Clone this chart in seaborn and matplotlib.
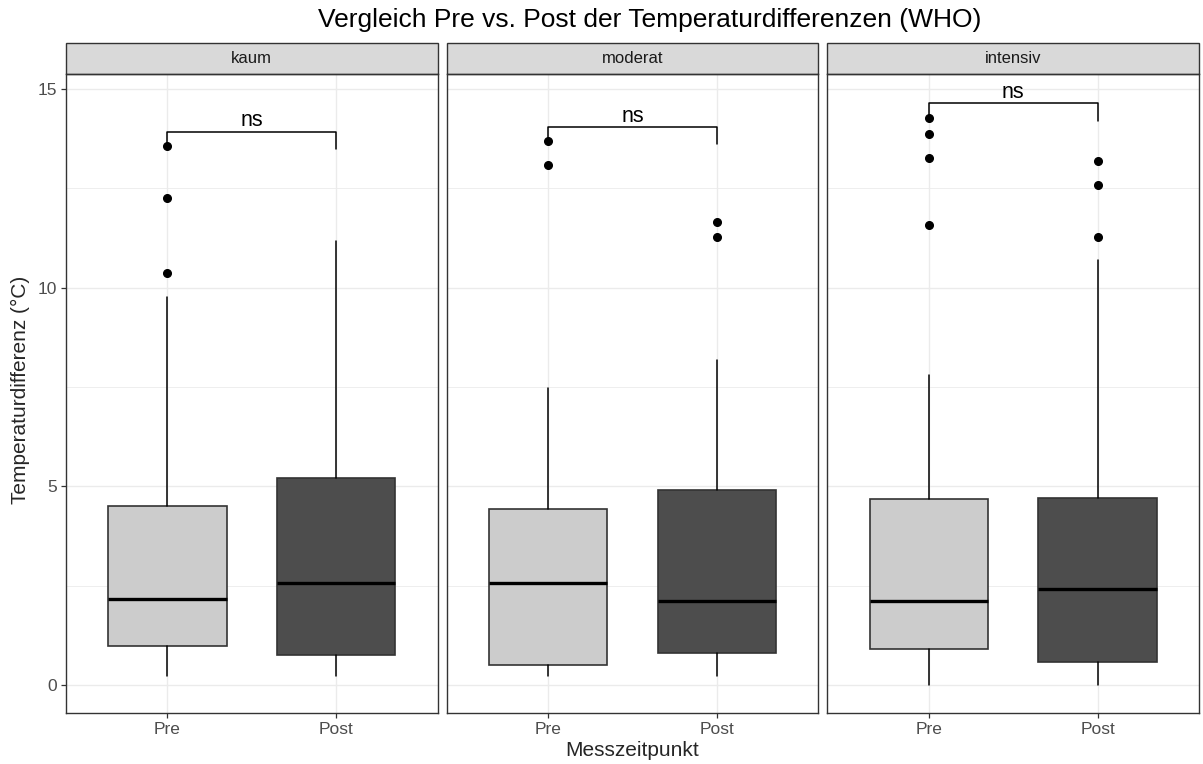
import numpy as np
import pandas as pd
import matplotlib
matplotlib.use("Agg")
import matplotlib.pyplot as plt
import seaborn as sns
from matplotlib.patches import Rectangle

# Intensitätsgruppen und Messzeitpunkte
gruppen = ["kaum", "moderat", "intensiv"]
zeitpunkte = ["Pre", "Post"]

# Boxplot-Kennwerte (°C), Reihenfolge: kaum Pre/Post, moderat Pre/Post, intensiv Pre/Post
whisker_unten = [0.23, 0.23, 0.23, 0.23, 0.00, 0.00]
q1 = [0.98, 0.77, 0.52, 0.80, 0.91, 0.59]
median = [2.16, 2.58, 2.58, 2.13, 2.12, 2.42]
q3 = [4.51, 5.22, 4.44, 4.90, 4.69, 4.71]
whisker_oben = [9.76, 11.18, 7.47, 8.18, 7.81, 10.69]
ausreisser = [
    [10.37, 12.26, 13.57],
    [],
    [13.08, 13.69],
    [11.28, 11.66],
    [11.57, 13.27, 13.86, 14.28],
    [11.29, 12.59, 13.19],
]
signifikanz = ["ns", "ns", "ns"]

fuellfarben = {"Pre": "#CCCCCC", "Post": "#4D4D4D"}

df = pd.DataFrame({
    "Gruppe": np.repeat(gruppen, len(zeitpunkte)),
    "Messzeitpunkt": zeitpunkte * len(gruppen),
    "whislo": whisker_unten,
    "q1": q1,
    "med": median,
    "q3": q3,
    "whishi": whisker_oben,
    "fliers": ausreisser,
})

sns.set_theme(style="white")
plt.rcParams["font.family"] = ["Liberation Sans", "DejaVu Sans"]

W, H = 1203, 764
g = sns.FacetGrid(df, col="Gruppe", col_order=gruppen, sharey=True, height=5, aspect=0.8)
fig = g.figure


def boxen_zeichnen(data, **kwargs):
    ax = plt.gca()
    stats, farben = [], []
    for _, r in data.iterrows():
        stats.append({"whislo": r.whislo, "q1": r.q1, "med": r.med, "q3": r.q3,
                      "whishi": r.whishi, "fliers": np.array(r.fliers)})
        farben.append(fuellfarben[r.Messzeitpunkt])
    pos = [zeitpunkte.index(m) for m in data["Messzeitpunkt"]]
    teile = ax.bxp(stats, positions=pos, widths=0.7, patch_artist=True, showcaps=False,
                   boxprops=dict(edgecolor="#333333", linewidth=1.2),
                   medianprops=dict(color="black", linewidth=2.4, solid_capstyle="butt"),
                   whiskerprops=dict(color="black", linewidth=1.1),
                   flierprops=dict(marker="o", markerfacecolor="black", markeredgecolor="black",
                                   markersize=5.5),
                   manage_ticks=False, zorder=3)
    for box, f in zip(teile["boxes"], farben):
        box.set_facecolor(f)

    # Vergleichsklammer mit Signifikanzangabe
    ymax = max(max([r.whishi] + list(r.fliers)) for _, r in data.iterrows())
    yb = ymax + 0.36
    bein = 0.44
    ax.plot([0, 0, 1, 1], [yb - bein, yb, yb, yb - bein], color="black", lw=1.1, zorder=4)
    label = signifikanz[gruppen.index(data["Gruppe"].iloc[0])]
    ax.text(0.5, yb + 0.13, label, ha="center", va="baseline", fontsize=15.5, color="black")


g.map_dataframe(boxen_zeichnen)
g.set_titles("")
g.set_axis_labels("", "")

strip_h = 31 / (713 - 74)
for i, (ax, name) in enumerate(zip(g.axes.flat, gruppen)):
    ax.set_xlim(-0.6, 1.6)
    ax.set_ylim(-0.70, 15.38)
    ax.set_xticks(range(len(zeitpunkte)))
    ax.set_xticklabels(zeitpunkte)
    ax.set_yticks([0, 5, 10, 15])
    ax.set_yticks([2.5, 7.5, 12.5], minor=True)
    ax.set_xticks([], minor=True)
    ax.grid(which="major", color="#EBEBEB", linewidth=1.0)
    ax.grid(which="minor", axis="y", color="#EBEBEB", linewidth=0.6)
    ax.set_axisbelow(True)
    for s in ax.spines.values():
        s.set_visible(True)
        s.set_color("#333333")
        s.set_linewidth(1.0)
    ax.tick_params(axis="both", which="major", length=3.5, width=0.9, color="#333333",
                   labelcolor="#4D4D4D", labelsize=12.5, pad=3, bottom=True, left=True)
    ax.tick_params(axis="both", which="minor", length=0)
    if i > 0:
        ax.tick_params(axis="y", which="major", length=0, labelleft=False)
    ax.set_title("")
    ax.add_patch(Rectangle((0, 1), 1, strip_h, transform=ax.transAxes, clip_on=False,
                           facecolor="#D9D9D9", edgecolor="#333333", linewidth=1.0))
    ax.text(0.5, 1 + strip_h / 2, name, transform=ax.transAxes, ha="center", va="center",
            fontsize=12, color="#1A1A1A")

fig.text(649.5 / W, 1 - 20 / H, "Vergleich Pre vs. Post der Temperaturdifferenzen (WHO)",
         ha="center", va="center", fontsize=19, color="black")
fig.text(632.5 / W, 1 - 750 / H, "Messzeitpunkt", ha="center", va="center", fontsize=15)
fig.text(20 / W, 1 - 390 / H, "Temperaturdifferenz (°C)", ha="center", va="center",
         rotation=90, fontsize=15)

fig.set_size_inches(W / 100, H / 100)
fig.subplots_adjust(left=66 / W, right=1199 / W, top=1 - 74 / H, bottom=1 - 713 / H, wspace=0.024)
fig.savefig("out.png", dpi=100, facecolor="white")
